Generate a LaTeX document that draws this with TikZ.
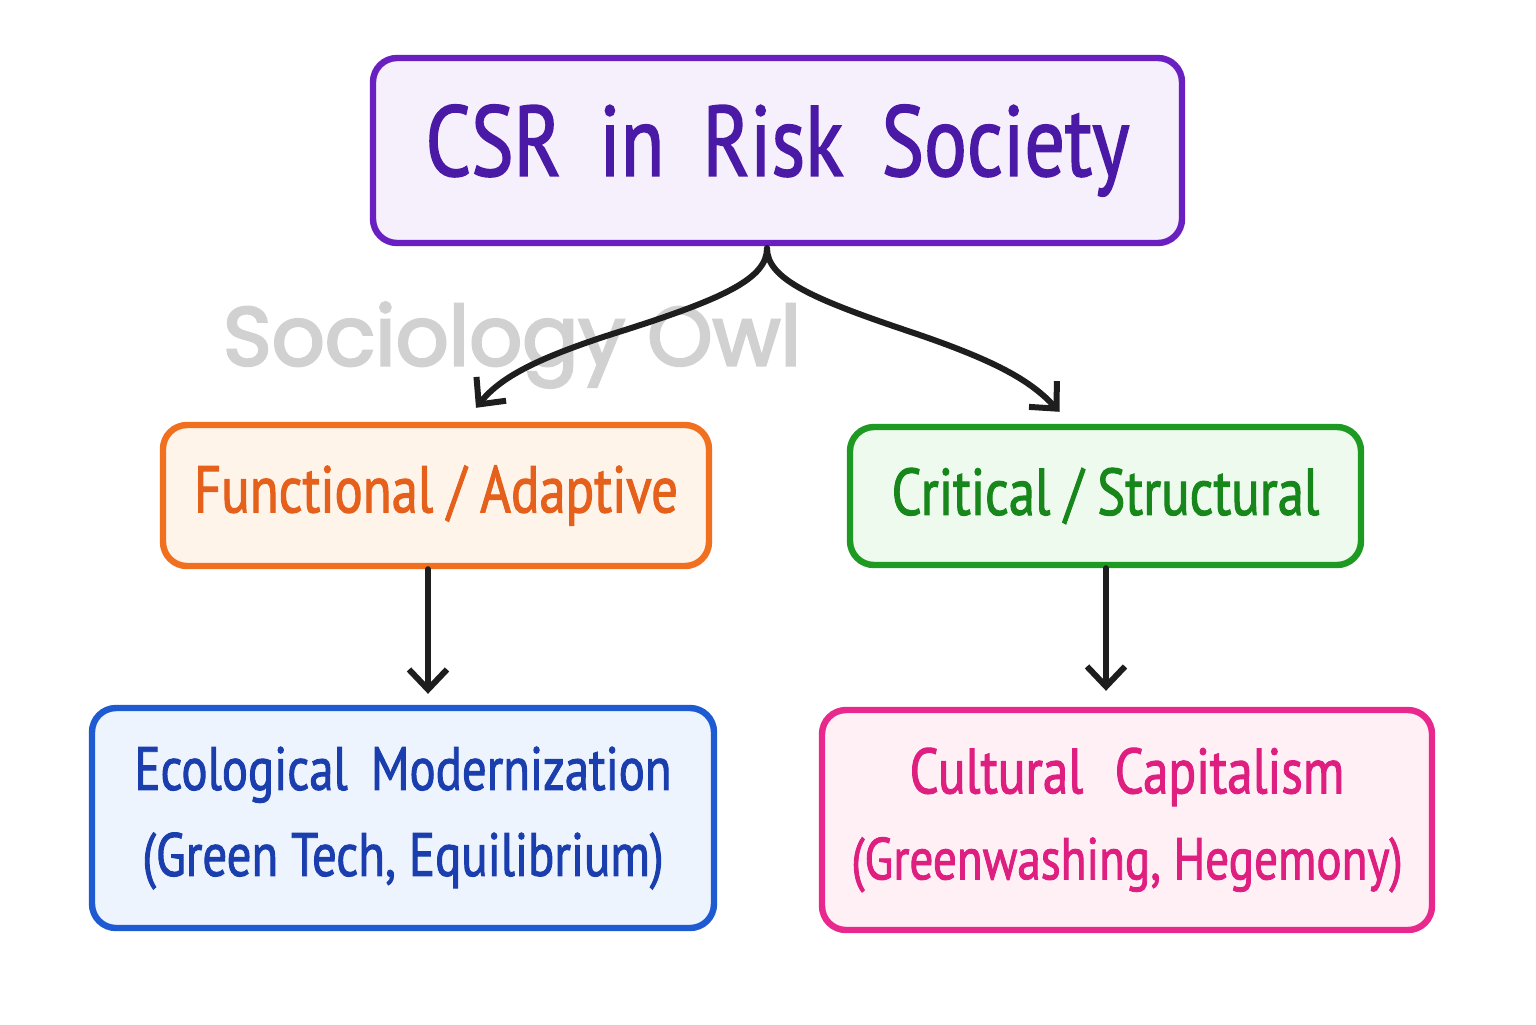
\documentclass[tikz,border=0pt]{standalone}
\usepackage{fontspec}
\setmainfont[FakeStretch=0.8,FakeBold=1.5]{PT Sans}
\newfontfamily\wmfont[FakeBold=3]{Poppins}
\usetikzlibrary{arrows.meta}
\definecolor{topborder}{HTML}{6A1FC0}
\definecolor{topfill}{HTML}{F6EFFC}
\definecolor{toptext}{HTML}{4A1AA6}
\definecolor{orborder}{HTML}{F07020}
\definecolor{orfill}{HTML}{FFF4EA}
\definecolor{ortext}{HTML}{E5601A}
\definecolor{grborder}{HTML}{1E9A22}
\definecolor{grfill}{HTML}{EEFAEE}
\definecolor{grtext}{HTML}{17861B}
\definecolor{blborder}{HTML}{1E5AD2}
\definecolor{blfill}{HTML}{EEF4FE}
\definecolor{bltext}{HTML}{1B3EAE}
\definecolor{pkborder}{HTML}{E8288C}
\definecolor{pkfill}{HTML}{FFF0F6}
\definecolor{pktext}{HTML}{DE1F80}
\definecolor{arrowc}{HTML}{1E1E1E}
\begin{document}
\begin{tikzpicture}[x=0.5pt,y=-0.5pt,
  box/.style={draw, line width=3.2pt, rounded corners=12pt, align=center, inner sep=0pt},
  conn/.style={draw=arrowc, line width=3pt, line cap=round,
    -{Straight Barb[length=10pt,width=19pt,line width=3pt]}}]
\useasboundingbox[fill=white] (0,0) rectangle (1536,1024);
\node[text=black!18, font=\wmfont\fontsize{41.5}{46}\selectfont] (wm) at (512,345) {Sociology Owl};
\node[box, draw=topborder, fill=topfill, text=toptext, minimum width=404.5pt, minimum height=92.5pt,
  font=\fontsize{50}{56}\selectfont] (top) at (777.5,150.5) {CSR\, in\, Risk\, Society};
\node[box, draw=orborder, fill=orfill, text=ortext, minimum width=273pt, minimum height=70.5pt,
  font=\fontsize{33}{38}\selectfont] (func) at (436,495.5) {Functional / Adaptive};
\node[box, draw=grborder, fill=grfill, text=grtext, minimum width=255.5pt, minimum height=69pt,
  font=\fontsize{33}{38}\selectfont] (crit) at (1105.5,496) {Critical / Structural};
\node[box, draw=blborder, fill=blfill, text=bltext, minimum width=311pt, minimum height=110pt,
  font=\fontsize{30.5}{43}\selectfont] (eco) at (403,818) {Ecological\, Modernization\\(Green Tech, Equilibrium)};
\node[box, draw=pkborder, fill=pkfill, text=pktext, minimum width=305pt, minimum height=110pt,
  font=\fontsize{29.5}{43}\selectfont] (cult) at (1127,820) {{\fontsize{32}{43}\selectfont Cultural\; Capitalism}\\(Greenwashing, Hegemony)};
\coordinate (fork) at ([xshift=-5.25pt,yshift=-1pt]top.south);
\coordinate (lend) at ([xshift=20pt,yshift=7pt]func.north);
\coordinate (rend) at ([xshift=-23pt,yshift=6pt]crit.north);
\draw[conn] (fork) .. controls +(0,30) and (725,298) .. (625,330) .. controls (535,358) and (500,378) .. (lend);
\draw[conn] (fork) .. controls +(0,30) and (810,298) .. (905,330) .. controls (995,360) and (1030,380) .. (rend);
\draw[conn] ([xshift=-4pt]func.south) -- ([xshift=-4pt,yshift=5.5pt]func.south |- eco.north);
\draw[conn] ([xshift=0.25pt]crit.south) -- ([xshift=0.25pt,yshift=8pt]crit.south |- cult.north);
\end{tikzpicture}
\end{document}
